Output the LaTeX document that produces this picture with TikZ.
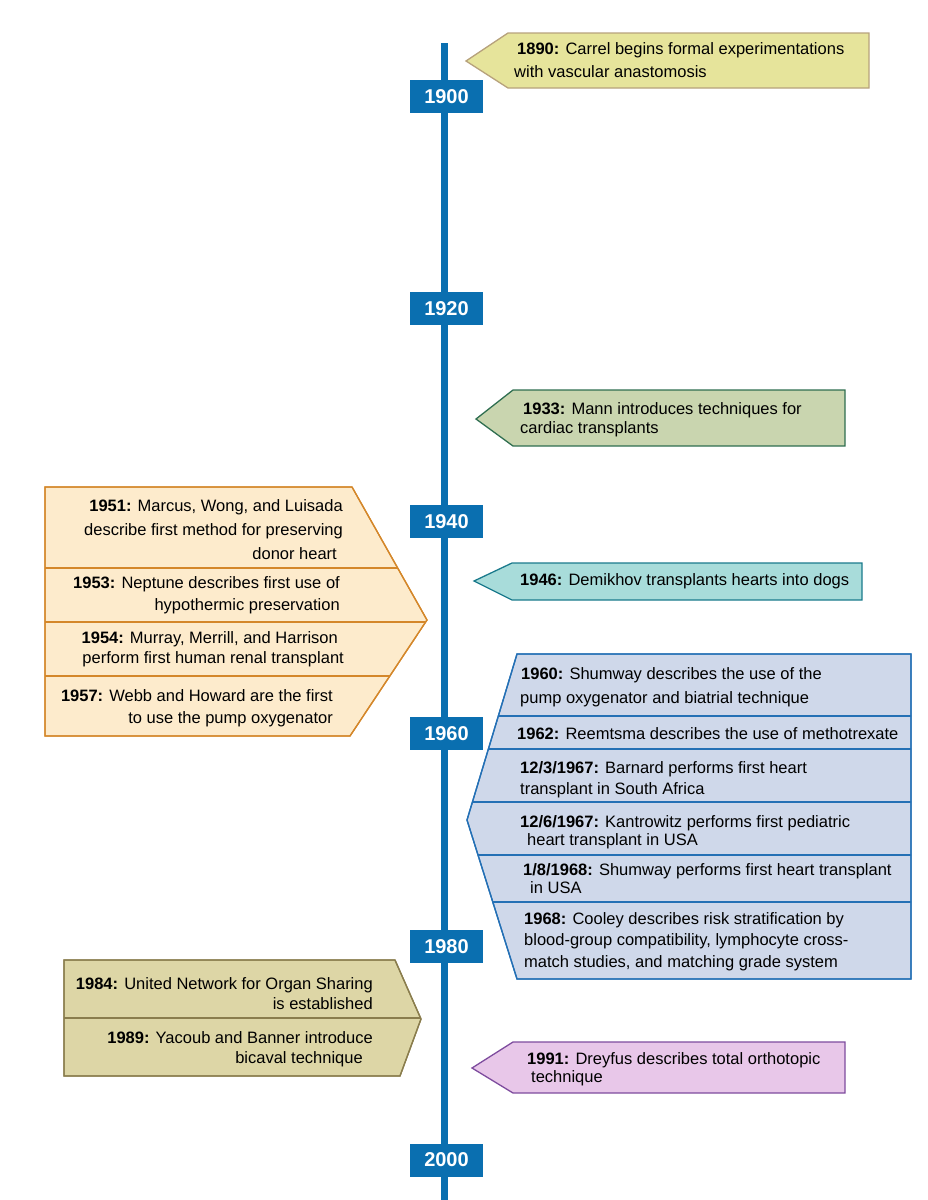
\documentclass[tikz,border=0pt]{standalone}
\usepackage{fontspec}
\setmainfont{Liberation Sans}
\definecolor{tlblue}{RGB}{10,111,176}
\definecolor{aF}{RGB}{230,228,155}\definecolor{aD}{RGB}{183,162,124}
\definecolor{bF}{RGB}{201,213,175}\definecolor{bD}{RGB}{47,110,80}
\definecolor{cF}{RGB}{168,220,218}\definecolor{cD}{RGB}{26,122,140}
\definecolor{dF}{RGB}{253,235,204}\definecolor{dD}{RGB}{212,135,42}
\definecolor{eF}{RGB}{207,216,234}\definecolor{eD}{RGB}{36,112,181}
\definecolor{fF}{RGB}{221,214,166}\definecolor{fD}{RGB}{138,125,77}
\definecolor{gF}{RGB}{232,199,233}\definecolor{gD}{RGB}{126,76,158}
\begin{document}
\begin{tikzpicture}[x=1pt,y=-1pt,
  yearbox/.style={fill=tlblue,text=white,font=\fontsize{20}{24}\selectfont\bfseries,minimum width=73pt,minimum height=33pt,inner sep=0},
  evshape/.style 2 args={fill=#1,draw=#2,line width=1.3pt,line join=miter},
  divline/.style={draw=#1,line width=1.2pt},
  ev/.style={inner sep=0,font=\fontsize{16.5}{#1}\selectfont},
  evl/.style={ev=#1,anchor=north west,align=left},
  evr/.style={ev=#1,anchor=north east,align=right}]
\useasboundingbox (0,0) rectangle (927,1200);
% timeline
\coordinate (tltop) at (444,43);
\coordinate (tlbot) at (444,1200);
\draw[tlblue,line width=7pt] (tltop) -- (tlbot);
\node[yearbox] (y1900) at (446.5,96.5) {1900};
\node[yearbox] (y1920) at (446.5,308.5) {1920};
\node[yearbox] (y1940) at (446.5,521.5) {1940};
\node[yearbox] (y1960) at (446.5,733.5) {1960};
\node[yearbox] (y1980) at (446.5,946.5) {1980};
\node[yearbox] (y2000) at (446.5,1160) {2000};
% 1890
\path[evshape={aF}{aD}] (466,61) -- (508,33) -- (869,33) -- (869,88) -- (508,88) -- cycle;
\node[evl=23] (e1890) at (514,42) {\hspace*{3pt}\textbf{1890:} Carrel begins formal experimentations\\with vascular anastomosis};
% 1933
\path[evshape={bF}{bD}] (476,419) -- (513,390) -- (845,390) -- (845,446) -- (513,446) -- cycle;
\node[evl=19.5] (e1933) at (520,402) {\hspace*{3pt}\textbf{1933:} Mann introduces techniques for\\cardiac transplants};
% 1946
\path[evshape={cF}{cD}] (474,581) -- (512,563) -- (862,563) -- (862,600) -- (512,600) -- cycle;
\node[evl=18] (e1946) at (520,573) {\textbf{1946:} Demikhov transplants hearts into dogs};
% orange group
\path[evshape={dF}{dD}] (45,487) -- (352,487) -- (427,620) -- (350,736) -- (45,736) -- cycle;
\begin{scope}
\clip (45,487) -- (352,487) -- (427,620) -- (350,736) -- (45,736) -- cycle;
\foreach \yy in {568,622,676} \draw[divline=dD] (40,\yy) -- (440,\yy);
\end{scope}
\draw[dD,line width=1.3pt,line join=miter] (45,487) -- (352,487) -- (427,620) -- (350,736) -- (45,736) -- cycle;
\node[evr=24] (e1951) at (343,499) {\textbf{1951:} Marcus, Wong, and Luisada\\describe first method for preserving\hspace*{5pt}\\donor heart\hspace*{6pt}};
\node[evr=22] (e1953) at (340,576) {\textbf{1953:} Neptune describes first use of\\hypothermic preservation};
\node[evr=20] (e1954) at (344,631) {\textbf{1954:} Murray, Merrill, and Harrison\hspace*{6pt}\\perform first human renal transplant};
\node[evr=22] (e1957) at (333,689) {\textbf{1957:} Webb and Howard are the first\\to use the pump oxygenator};
% blue group
\path[evshape={eF}{eD}] (517,654) -- (911,654) -- (911,979) -- (517,979) -- (467,820) -- cycle;
\begin{scope}
\clip (517,654) -- (911,654) -- (911,979) -- (517,979) -- (467,820) -- cycle;
\foreach \yy in {716,749,802,855,902} \draw[divline=eD] (460,\yy) -- (920,\yy);
\end{scope}
\draw[eD,line width=1.3pt,line join=miter] (517,654) -- (911,654) -- (911,979) -- (517,979) -- (467,820) -- cycle;
\node[evl=24] (e1960) at (520,667) {\hspace*{1pt}\textbf{1960:} Shumway describes the use of the\\pump oxygenator and biatrial technique};
\node[evl=18] (e1962) at (517,727) {\textbf{1962:} Reemtsma describes the use of methotrexate};
\node[evl=21] (e1967a) at (520,761) {\textbf{12/3/1967:} Barnard performs first heart\\transplant in South Africa};
\node[evl=18] (e1967b) at (520,815) {\textbf{12/6/1967:} Kantrowitz performs first pediatric\\\hspace*{7pt}heart transplant in USA};
\node[evl=18] (e1968a) at (523,863) {\textbf{1/8/1968:} Shumway performs first heart transplant\\\hspace*{7pt}in USA};
\node[evl=21.5] (e1968b) at (524,912) {\textbf{1968:} Cooley describes risk stratification by\\blood-group compatibility, lymphocyte cross-\\match studies, and matching grade system};
% tan group
\path[evshape={fF}{fD}] (64,960) -- (395,960) -- (421,1019) -- (400,1076) -- (64,1076) -- cycle;
\begin{scope}
\clip (64,960) -- (395,960) -- (421,1019) -- (400,1076) -- (64,1076) -- cycle;
\draw[divline=fD] (60,1018) -- (430,1018);
\end{scope}
\draw[fD,line width=1.3pt,line join=miter] (64,960) -- (395,960) -- (421,1019) -- (400,1076) -- (64,1076) -- cycle;
\node[evr=20] (e1984) at (373,977) {\textbf{1984:} United Network for Organ Sharing\\is established};
\node[evr=20] (e1989) at (373,1031) {\textbf{1989:} Yacoub and Banner introduce\\bicaval technique\hspace*{10pt}};
% 1991
\path[evshape={gF}{gD}] (472,1068) -- (513,1042) -- (845,1042) -- (845,1093) -- (513,1093) -- cycle;
\node[evl=18] (e1991) at (527,1052) {\textbf{1991:} Dreyfus describes total orthotopic\\\hspace*{4pt}technique};
\end{tikzpicture}
\end{document}
